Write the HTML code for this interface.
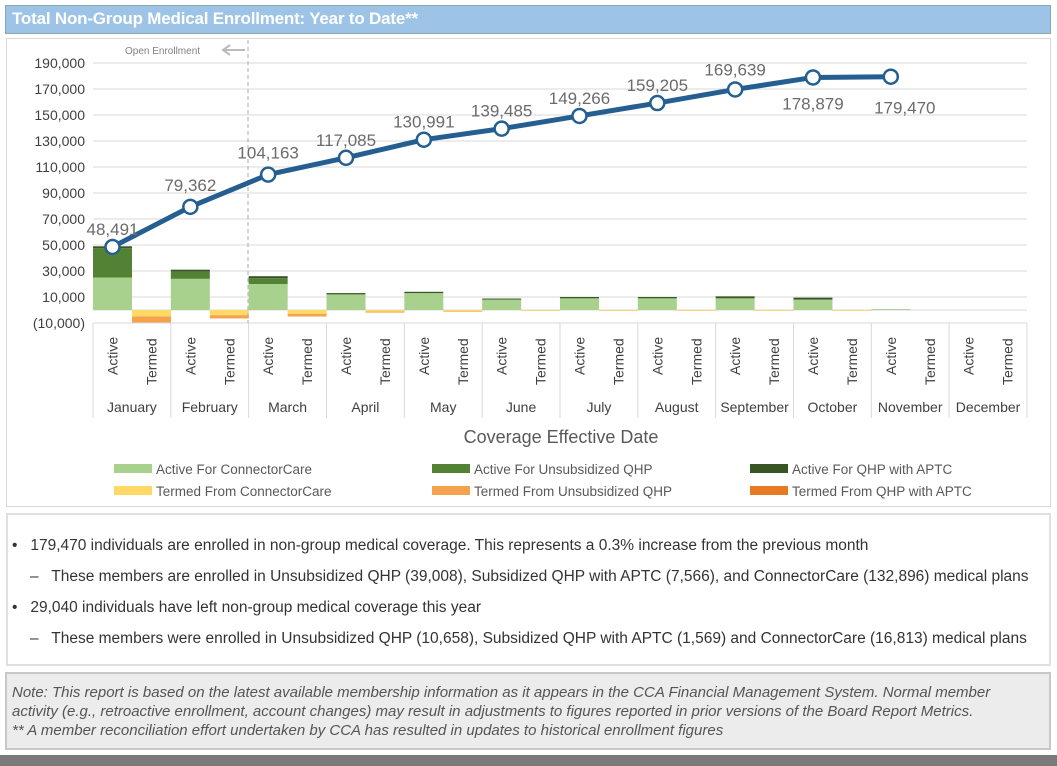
<!DOCTYPE html>
<html><head><meta charset="utf-8">
<style>
body{margin:0;width:1057px;height:766px;background:#fff;position:relative;overflow:hidden;font-family:"Liberation Sans",sans-serif}
.box{position:absolute;box-sizing:border-box}
.nar{font-family:"Liberation Sans Narrow","Liberation Sans",sans-serif}
</style></head><body>
<div class="box" style="left:5px;top:5px;width:1046px;height:29px;background:#9dc3e6;border:1px solid #8aa;"></div>
<div class="box nar" style="left:12px;top:9px;color:#fff;font-weight:bold;font-size:17px;letter-spacing:-0.2px">Total Non-Group Medical Enrollment: Year to Date**</div>
<div class="box" style="left:6px;top:38px;width:1045px;height:469px;border:1px solid #d9d9d9;"></div>
<svg id="c" width="1057" height="510" style="position:absolute;left:0;top:0" font-family="Liberation Sans, sans-serif"></svg>
<div class="box" style="left:6px;top:513px;width:1045px;height:153px;border:2px solid #e0e0e0;"></div>
<div class="box nar" style="left:12px;top:530px;font-size:15.5px;color:#333;line-height:31px">
<div>•&nbsp;&nbsp; 179,470 individuals are enrolled in non-group medical coverage. This represents a 0.3% increase from the previous month</div>
<div style="padding-left:18px">–&nbsp;&nbsp; These members are enrolled in Unsubsidized QHP (39,008), Subsidized QHP with APTC (7,566), and ConnectorCare (132,896) medical plans</div>
<div>•&nbsp;&nbsp; 29,040 individuals have left non-group medical coverage this year</div>
<div style="padding-left:18px">–&nbsp;&nbsp; These members were enrolled in Unsubsidized QHP (10,658), Subsidized QHP with APTC (1,569) and ConnectorCare (16,813) medical plans</div>
</div>
<div class="box" style="left:5px;top:672px;width:1046px;height:78px;background:#ececec;border:2px solid #c8c8c8;"></div>
<div class="box nar" style="left:12px;top:683px;font-size:15px;color:#555;font-style:italic;line-height:19px">Note: This report is based on the latest available membership information as it appears in the CCA Financial Management System. Normal member<br>activity (e.g., retroactive enrollment, account changes) may result in adjustments to figures reported in prior versions of the Board Report Metrics.<br>** A member reconciliation effort undertaken by CCA has resulted in updates to historical enrollment figures</div>
<div class="box" style="left:0;top:755px;width:1057px;height:11px;background:#7a7a7a"></div>
<script>
var s='',X0=93,W=77.83;
function y(v){return 310-v*0.0013}
for(var v=-10000;v<=190000;v+=20000){var yy=y(v);s+='<line x1="93" x2="1027" y1="'+yy+'" y2="'+yy+'" stroke="#d9d9d9"/>';
s+='<text x="85" y="'+(yy+5)+'" text-anchor="end" font-size="14" fill="#404040">'+(v<0?'(10,000)':v.toLocaleString('en-US'))+'</text>';}
s+='<line x1="93" x2="1027" y1="310" y2="310" stroke="#d9d9d9"/>';
var act=[[25000,47500,49000],[24000,29500,31000],[20000,24500,26000],[12000,12000,13000],[13000,13000,14000],[8000,8000,8800],[9000,9000,10000],[9000,9000,10000],[9000,9000,10500],[8000,8000,9500],[500,500,600]];
var trm=[[-5000,-10000],[-4000,-6500],[-3000,-5000],[-1200,-2000],[-800,-1300],[-500,-700],[-500,-700],[-500,-700],[-400,-600],[-400,-600],[0,0]];
var cols=['#a9d18e','#548235','#375623'];
for(var i=0;i<11;i++){var x=X0+i*W;var p=0;
 for(var k=0;k<3;k++){var t=act[i][k];if(t>p){s+='<rect x="'+x+'" y="'+y(t)+'" width="39" height="'+(y(p)-y(t))+'" fill="'+cols[k]+'"/>';p=t;}}
 if(trm[i][1]<0){s+='<rect x="'+(x+39)+'" y="310" width="39" height="'+(y(trm[i][0])-310)+'" fill="#ffd966"/>';
 s+='<rect x="'+(x+39)+'" y="'+y(trm[i][0])+'" width="39" height="'+(y(trm[i][1])-y(trm[i][0]))+'" fill="#f4a24e"/>';}}
for(var i=0;i<=12;i++){var x=X0+i*W;s+='<line x1="'+x+'" x2="'+x+'" y1="323" y2="418" stroke="#d9d9d9"/>';}
var M=['January','February','March','April','May','June','July','August','September','October','November','December'];
for(var i=0;i<12;i++){var x=X0+i*W;
 s+='<text transform="translate('+(x+19.5+5)+',375) rotate(-90)" font-size="14" fill="#404040">Active</text>';
 s+='<text transform="translate('+(x+58.5+5)+',385) rotate(-90)" font-size="14" fill="#404040">Termed</text>';
 s+='<text x="'+(x+W/2)+'" y="412" text-anchor="middle" font-size="14" fill="#404040">'+M[i]+'</text>';}
s+='<line x1="93" x2="1027" y1="323" y2="323" stroke="#d9d9d9"/>';
s+='<line x1="248" x2="248" y1="40" y2="323" stroke="#aaa" stroke-dasharray="4,3"/>';
s+='<text x="125" y="54" font-size="10" fill="#808080">Open Enrollment</text>';
s+='<line x1="224" x2="245" y1="50" y2="50" stroke="#bbb" stroke-width="2"/><path d="M230 45 L223 50 L230 55" fill="none" stroke="#bbb" stroke-width="2"/>';
var L=[48491,79362,104163,117085,130991,139485,149266,159205,169639,178879,179470];
var pts=L.map(function(v,i){return (X0+19.5+i*W)+','+y(v)}).join(' ');
s+='<polyline points="'+pts+'" fill="none" stroke="#255e91" stroke-width="5" stroke-linejoin="round"/>';
var ly=[-12,-16,-16,-12,-12,-12,-12,-12,-14,32,37];
var lx=[0,0,0,0,0,0,0,0,0,0,14];
L.forEach(function(v,i){var cx=X0+19.5+i*W,cy=y(v);s+='<circle cx="'+cx+'" cy="'+cy+'" r="7" fill="#fff" stroke="#255e91" stroke-width="2.5"/>';
 s+='<text x="'+(cx+lx[i])+'" y="'+(cy+ly[i])+'" text-anchor="middle" font-size="17" fill="#6b6b6b">'+v.toLocaleString('en-US')+'</text>';});
s+='<text x="561" y="443" text-anchor="middle" font-size="18" fill="#595959">Coverage Effective Date</text>';
var lg=[['#a9d18e','Active For ConnectorCare'],['#548235','Active For Unsubsidized QHP'],['#375623','Active For QHP with APTC'],['#ffd966','Termed From ConnectorCare'],['#f4a24e','Termed From Unsubsidized QHP'],['#e97a24','Termed From QHP with APTC']];
lg.forEach(function(e,i){var x=114+(i%3)*318,yy=i<3?464:486;s+='<rect x="'+x+'" y="'+yy+'" width="38" height="9" fill="'+e[0]+'"/><text x="'+(x+42)+'" y="'+(yy+10)+'" font-size="13.5" fill="#595959" font-family="Liberation Sans Narrow, Liberation Sans, sans-serif">'+e[1]+'</text>';});
document.getElementById('c').innerHTML=s;
</script>
</body></html>
